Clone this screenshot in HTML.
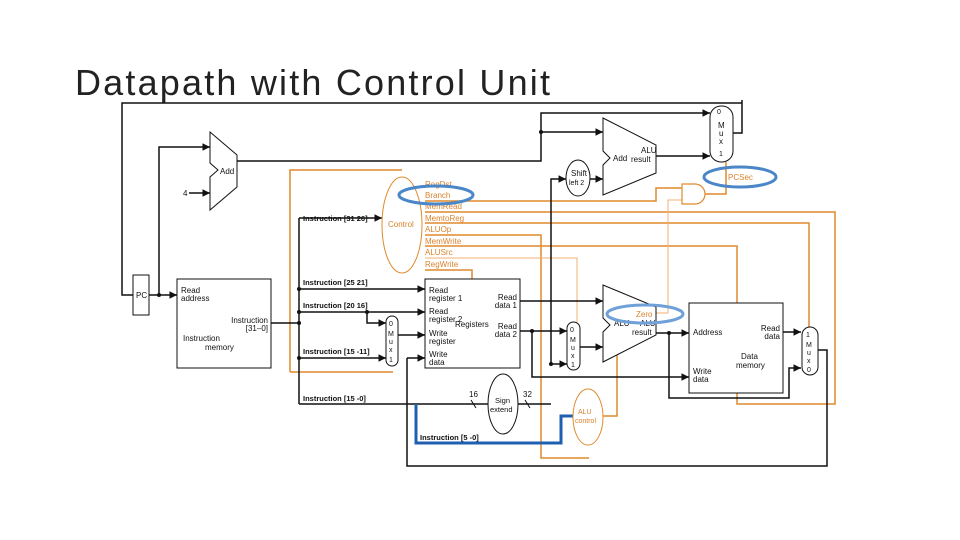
<!DOCTYPE html>
<html><head><meta charset="utf-8"><style>
html,body{margin:0;padding:0;background:#fff;width:960px;height:540px;overflow:hidden}
svg{display:block}
text{font-family:"Liberation Sans",sans-serif;font-size:8px;fill:#111}
.o{fill:#d9822b}
</style></head><body>
<svg width="960" height="540" viewBox="0 0 960 540" xmlns="http://www.w3.org/2000/svg">
<defs><marker id="a" markerWidth="6" markerHeight="6" refX="5" refY="3" orient="auto"><path d="M0,0.5 L5,3 L0,5.5z" fill="#111"/></marker></defs>
<text x="75" y="95" style="font-size:36px;fill:#222" textLength="475">Datapath with Control Unit</text>

<!-- orange control wires -->
<g fill="none" stroke="#e08a2c" stroke-width="1.5">
<path d="M290,372 V170 H402"/>
<path d="M393,372 H290"/>
<path d="M425,201 H656 V188 H682"/>
<path d="M425,212 H835 V404 H737 V246 H425"/>
<path d="M425,223 H809 V327"/>
<path d="M425,235 H541 V458 H589"/>
<path d="M603,416 H617 V355"/>
<path d="M425,270 H472 V279"/>
<path d="M705,194 H726 V162"/>
</g>
<g fill="none" stroke="#f0b070" stroke-width="1">
<path d="M425,258 H577 V322"/>
<path d="M668,313 V200 H682"/>
<path d="M656,313 H668"/>
</g>
<!-- AND gate -->
<path d="M682,184 H695 A10,10 0 0 1 695,204 H682 Z" fill="#fff" stroke="#e08a2c" stroke-width="1.2"/>

<!-- black wires -->
<g fill="none" stroke="#111" stroke-width="1.5">
<path d="M742,100 V133 H733"/>
<path d="M742,103 H122 V295 H133"/>
<path d="M149,295 H177" marker-end="url(#a)"/>
<path d="M159,295 V147 H210" marker-end="url(#a)"/>
<path d="M189,193 H210" marker-end="url(#a)"/>
<path d="M237,161 H541 V113 H710" marker-end="url(#a)"/>
<path d="M541,132 H603" marker-end="url(#a)"/>
<path d="M656,156 H710" marker-end="url(#a)"/>
<path d="M590,179 H603" marker-end="url(#a)"/>
<path d="M551,364 V179 H566" marker-end="url(#a)"/>
<path d="M271,323 H299"/>
<path d="M299,218 V404"/>
<path d="M299,218 H382" marker-end="url(#a)"/>
<path d="M299,289 H425" marker-end="url(#a)"/>
<path d="M299,312 H425" marker-end="url(#a)"/>
<path d="M367,312 V323 H386" marker-end="url(#a)"/>
<path d="M299,358 H386" marker-end="url(#a)"/>
<path d="M398,335 H425" marker-end="url(#a)"/>
<path d="M407,358 H425" marker-end="url(#a)"/>
<path d="M407,358 V466 H827 V350 H818"/>
<path d="M299,404 H488"/>
<path d="M518,404 H551"/>
<path d="M551,364 H567" marker-end="url(#a)"/>
<path d="M520,301 H603" marker-end="url(#a)"/>
<path d="M520,331 H567" marker-end="url(#a)"/>
<path d="M532,331 V377 H689" marker-end="url(#a)"/>
<path d="M580,347 H603" marker-end="url(#a)"/>
<path d="M656,333 H689" marker-end="url(#a)"/>
<path d="M669,333 V398 H789 V368 H801" marker-end="url(#a)"/>
<path d="M783,332 H801" marker-end="url(#a)"/>
</g>
<g fill="#111"><circle cx="159" cy="295" r="2"/><circle cx="541" cy="132" r="2"/><circle cx="299" cy="323" r="2"/><circle cx="299" cy="289" r="2"/><circle cx="299" cy="312" r="2"/><circle cx="299" cy="358" r="2"/><circle cx="367" cy="312" r="2"/><circle cx="532" cy="331" r="2"/><circle cx="669" cy="333" r="2"/><circle cx="551" cy="364" r="2"/></g>
<path d="M471,400 l5,8 M525,400 l5,8" stroke="#111"/>

<!-- blue instruction[5-0] -->
<path d="M416,404 V443 H561 V416 H573" fill="none" stroke="#1f5fb0" stroke-width="3"/>

<!-- components -->
<g fill="#fff" stroke="#111" stroke-width="1">
<rect x="133" y="275" width="16" height="40"/>
<rect x="177" y="279" width="94" height="89"/>
<rect x="425" y="279" width="95" height="89"/>
<rect x="689" y="303" width="94" height="90"/>
<path d="M210,132 L237,155 L237,187 L210,210 L210,177 L218,170 L210,163 Z"/>
<path d="M603,118 L656,145 L656,173 L603,195 L603,165 L610,158 L603,151 Z"/>
<path d="M603,285 L656,307 L656,335 L603,362 L603,332 L610,325 L603,318 Z"/>
<rect x="710" y="106" width="23" height="56" rx="11"/>
<rect x="386" y="316" width="12" height="50" rx="6"/>
<rect x="567" y="322" width="13" height="48" rx="6.5"/>
<rect x="802" y="327" width="16" height="48" rx="8"/>
<ellipse cx="578" cy="178" rx="12" ry="18"/>
<ellipse cx="503" cy="404" rx="15" ry="30"/>
</g>
<g fill="#fff" stroke="#e08a2c" stroke-width="1">
<ellipse cx="402" cy="225" rx="20" ry="48" fill="none"/>
<ellipse cx="588" cy="417" rx="15" ry="28"/>
</g>

<!-- labels -->
<text x="136" y="298">PC</text>
<text x="183" y="196">4</text>
<text x="220" y="174">Add</text>
<text x="613" y="161">Add</text>
<text x="641" y="153">ALU</text><text x="631" y="162">result</text>
<text x="571" y="176" font-size="7">Shift</text><text x="569" y="185" style="font-size:7px">left 2</text>
<text x="717" y="114" style="font-size:7px">0</text><text x="718" y="128">M</text><text x="719" y="136">u</text><text x="719" y="144">x</text><text x="719" y="156" style="font-size:7px">1</text>
<text x="181" y="293">Read</text><text x="181" y="301">address</text>
<text x="268" y="323" text-anchor="end">Instruction</text><text x="268" y="331" text-anchor="end">[31–0]</text>
<text x="183" y="341">Instruction</text><text x="205" y="350">memory</text>
<text x="303" y="221" style="font-weight:bold;font-size:7.5px">Instruction [31 26]</text>
<text x="303" y="285" style="font-weight:bold;font-size:7.5px">Instruction [25 21]</text>
<text x="303" y="308" style="font-weight:bold;font-size:7.5px">Instruction [20 16]</text>
<text x="303" y="354" style="font-weight:bold;font-size:7.5px">Instruction [15 -11]</text>
<text x="303" y="401" style="font-weight:bold;font-size:7.5px">Instruction [15 -0]</text>
<text x="420" y="440" style="font-weight:bold;font-size:7.5px">Instruction [5 -0]</text>
<text x="388" y="227" class="o">Control</text>
<g class="o" style="font-size:8px"><text x="425" y="187" class="o">RegDst</text><text x="425" y="198" class="o">Branch</text><text x="425" y="209" class="o">MemRead</text><text x="425" y="221" class="o">MemtoReg</text><text x="425" y="232" class="o">ALUOp</text><text x="425" y="244" class="o">MemWrite</text><text x="425" y="255" class="o">ALUSrc</text><text x="425" y="267" class="o">RegWrite</text></g>
<text x="429" y="293">Read</text><text x="429" y="301">register 1</text>
<text x="429" y="314">Read</text><text x="429" y="322">register 2</text>
<text x="455" y="327">Registers</text>
<text x="429" y="336">Write</text><text x="429" y="344">register</text>
<text x="429" y="357">Write</text><text x="429" y="365">data</text>
<text x="517" y="300" text-anchor="end">Read</text><text x="517" y="308" text-anchor="end">data 1</text>
<text x="517" y="329" text-anchor="end">Read</text><text x="517" y="337" text-anchor="end">data 2</text>
<text x="389" y="326" style="font-size:7px">0</text><text x="388" y="336" style="font-size:7px">M</text><text x="389" y="344" style="font-size:7px">u</text><text x="389" y="352" style="font-size:7px">x</text><text x="389" y="362" style="font-size:7px">1</text>
<text x="570" y="332" style="font-size:7px">0</text><text x="570" y="342" style="font-size:7px">M</text><text x="571" y="350" style="font-size:7px">u</text><text x="571" y="358" style="font-size:7px">x</text><text x="571" y="367" style="font-size:7px">1</text>
<text x="806" y="337" style="font-size:7px">1</text><text x="806" y="347" style="font-size:7px">M</text><text x="807" y="355" style="font-size:7px">u</text><text x="807" y="363" style="font-size:7px">x</text><text x="807" y="372" style="font-size:7px">0</text>
<text x="495" y="403" style="font-size:7.5px">Sign</text><text x="490" y="412" style="font-size:7.5px">extend</text>
<text x="469" y="397">16</text><text x="523" y="397">32</text>
<text x="578" y="414" class="o" style="font-size:7px">ALU</text><text x="575" y="423" class="o" style="font-size:7px">control</text>
<text x="614" y="326">ALU</text><text x="640" y="326">ALU</text><text x="632" y="335">result</text>
<text x="693" y="335">Address</text>
<text x="780" y="331" text-anchor="end">Read</text><text x="780" y="339" text-anchor="end">data</text>
<text x="741" y="359">Data</text><text x="736" y="368">memory</text>
<text x="693" y="374">Write</text><text x="693" y="382">data</text>

<!-- blue highlights -->
<g fill="none" stroke="#4a86c8" stroke-width="3"><ellipse cx="436" cy="195" rx="37" ry="9"/><ellipse cx="740" cy="177" rx="36" ry="10"/></g>
<ellipse cx="645" cy="314" rx="38" ry="9" fill="none" stroke="#6fa0d8" stroke-width="3"/>
<text x="728" y="180" class="o">PCSec</text>
<text x="636" y="317" class="o">Zero</text>
</svg>
</body></html>
